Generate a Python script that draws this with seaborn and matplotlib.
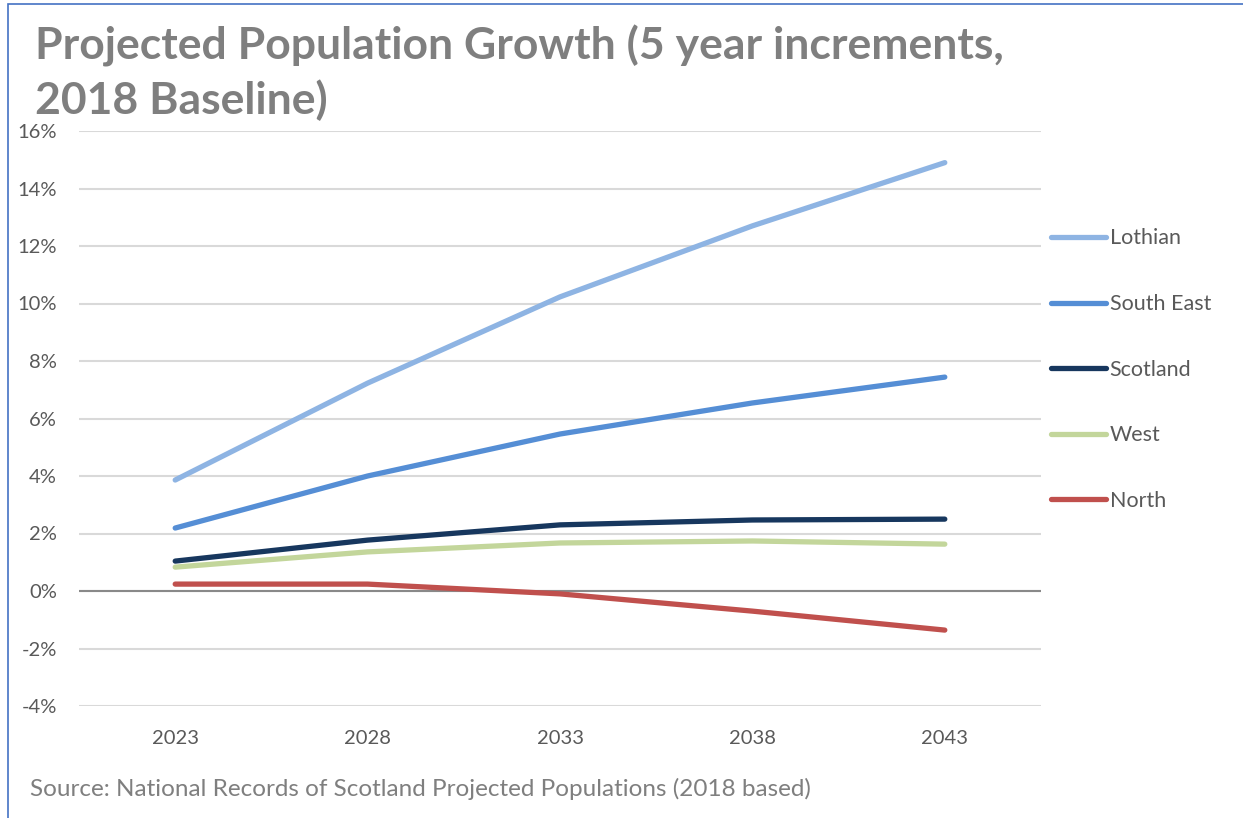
import matplotlib
matplotlib.use("Agg")
import matplotlib.pyplot as plt
import seaborn as sns
import pandas as pd
from matplotlib.patches import Rectangle
from matplotlib.lines import Line2D

years = ["2023", "2028", "2033", "2038", "2043"]
lothian = [3.86, 7.23, 10.23, 12.70, 14.90]
south_east = [2.19, 4.00, 5.46, 6.54, 7.44]
scotland = [1.04, 1.77, 2.30, 2.47, 2.50]
west = [0.83, 1.36, 1.67, 1.74, 1.63]
north = [0.24, 0.24, -0.10, -0.70, -1.36]

series_names = ["Lothian", "South East", "Scotland", "West", "North"]
series_values = [lothian, south_east, scotland, west, north]
colors = ["#8EB4E3", "#558ED5", "#17375E", "#C3D69B", "#C0504D"]
y_ticks = [-4, -2, 0, 2, 4, 6, 8, 10, 12, 14, 16]

rows = []
for name, vals in zip(series_names, series_values):
    for i, (yr, v) in enumerate(zip(years, vals)):
        rows.append({"idx": i, "Year": yr, "Region": name, "Growth": v})
df = pd.DataFrame(rows)

sns.set_theme(style="white")
plt.rcParams["font.family"] = ["Lato", "DejaVu Sans"]

fig = plt.figure(figsize=(12.43, 8.18), dpi=100)
W, H = 1243, 818
ax = fig.add_axes([79 / W, 1 - 706 / H, (1041 - 79) / W, (706 - 131) / H])

sns.lineplot(data=df, x="idx", y="Growth", hue="Region", hue_order=series_names,
             palette=colors, linewidth=3.8, ax=ax, legend=False, sort=False)
for ln in ax.get_lines():
    ln.set_solid_capstyle("round")
    ln.set_solid_joinstyle("round")

ax.set_xlim(-0.5, 4.5)
ax.set_ylim(-4, 16)
ax.set_yticks(y_ticks)
ax.set_yticklabels([f"{t}%" for t in y_ticks], color="#595959", fontsize=14.5)
ax.set_xticks(range(len(years)))
ax.set_xticklabels(years, color="#595959", fontsize=14.5)
ax.tick_params(axis="x", pad=17, length=0)
ax.tick_params(axis="y", pad=16, length=0)
ax.set_xlabel("")
ax.set_ylabel("")
for sp in ax.spines.values():
    sp.set_visible(False)
ax.yaxis.grid(True, color="#D9D9D9", linewidth=1.5)
ax.set_axisbelow(True)
ax.axhline(0, color="#898989", linewidth=1.5, zorder=1.5)

handles = [Line2D([0], [0], color=c, linewidth=3.8, solid_capstyle="round") for c in colors]
leg = fig.legend(handles, series_names, loc="upper left",
                 bbox_to_anchor=(1045 / W, 1 - 222 / H), frameon=False,
                 fontsize=15.5, handlelength=2.55, handletextpad=0.15,
                 labelspacing=2.12, labelcolor="#595959", borderaxespad=0,
                 borderpad=0.3)

fig.text(35 / W, 1 - 25 / H, "Projected Population Growth (5 year increments,\n2018 Baseline)",
         fontsize=32, fontweight="bold", color="#7F7F7F", va="top", ha="left",
         linespacing=1.34)
fig.text(30 / W, 1 - 789 / H, "Source: National Records of Scotland Projected Populations (2018 based)",
         fontsize=17.5, color="#7F7F7F", va="center", ha="left")

fig.patches.append(Rectangle((8 / W, -0.1), 1.2, 1 - 4 / H + 0.1, transform=fig.transFigure,
                             fill=False, edgecolor="#4472C4", linewidth=1.2))

fig.savefig("out.png", dpi=100)
